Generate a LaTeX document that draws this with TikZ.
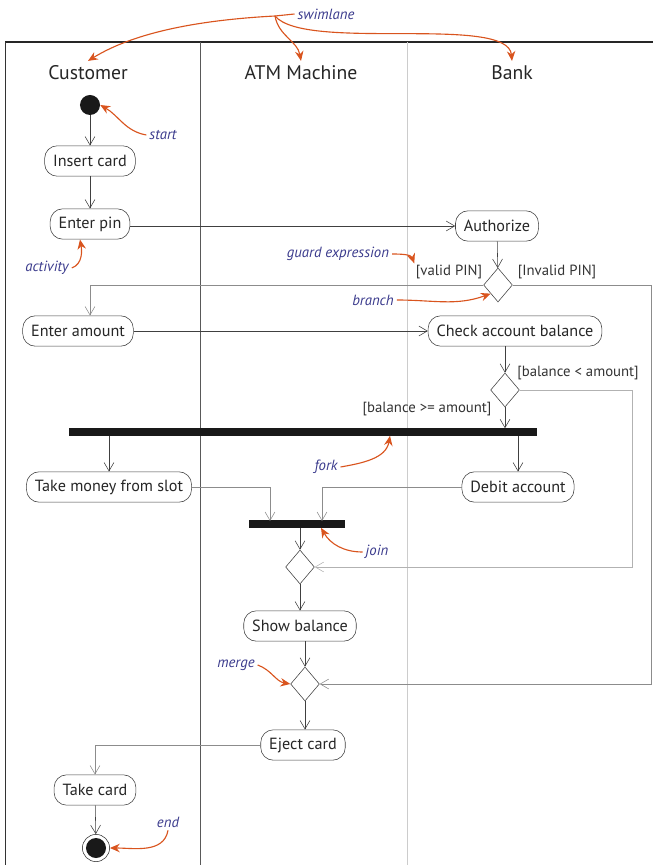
\documentclass[tikz,border=0pt]{standalone}
\usepackage{fontspec}
\setmainfont{PT Sans}
\usetikzlibrary{positioning,shapes.geometric,arrows.meta}

\definecolor{notecol}{HTML}{3A3A8C}
\definecolor{pointcol}{HTML}{D9541E}

\tikzset{
  lane/.style={font=\fontsize{14}{16}\selectfont, text=black!85},
  activity/.style={draw=black!75, rounded corners=9pt, minimum height=0.76cm, inner xsep=6pt,
    fill=white, font=\fontsize{11.5}{13}\selectfont, text=black!85},
  decision/.style={diamond, draw=black!75, fill=white, inner sep=0pt,
    minimum width=0.72cm, minimum height=0.85cm},
  bar/.style={fill=black!90, inner sep=0pt, minimum height=5pt},
  startnode/.style={circle, fill=black!90, minimum size=0.5cm, inner sep=0pt},
  endnode/.style={circle, draw=black!80, minimum size=0.68cm, inner sep=0pt,
    path picture={\fill[black!90] (path picture bounding box.center) circle (0.25cm);}},
  flow/.style={draw=black!75, -{Straight Barb[length=6pt,width=7pt]}},
  backflow/.style={draw=black!45, -{Straight Barb[length=6pt,width=7pt]}},
  guard/.style={font=\fontsize{10.5}{12}\selectfont, text=black!80, inner sep=1pt},
  note/.style={font=\fontsize{10.5}{12}\selectfont\itshape, text=notecol, inner sep=2pt},
  pointer/.style={draw=pointcol, thick, -{Stealth[length=7pt,width=6pt]}}
}

\begin{document}
\begin{tikzpicture}[x=0.025cm, y=-0.025cm]
  \useasboundingbox (0,0) rectangle (653,865);

  % swimlanes
  \draw[black!85, line width=1pt] (5,42) -- (653,42);
  \draw[black!80] (5,42) -- (5,865);
  \draw[black!65] (200,42) -- (200,865);
  \draw[black!20] (407,42) -- (407,865);

  \node[lane] (cust) at (88,73) {Customer};
  \node[lane] (atm) at (301,73) {ATM Machine};
  \node[lane] (bank) at (512,73) {Bank};

  % activities
  \node[startnode] (start) at (90,105) {};
  \node[activity] (insert) at (90,161) {Insert card};
  \node[activity] (pin) at (90,224) {Enter pin};
  \node[activity] (auth) at (497,226) {Authorize};
  \node[decision] (d1) at (498,285) {};
  \node[activity] (amount) at (78,331) {Enter amount};
  \node[activity] (check) at (515,331) {Check account balance};
  \node[decision] (d2) at (505,390) {};
  \node[bar, minimum width=11.675cm] (fork) at (303,432) {};
  \node[activity] (money) at (109,487) {Take money from slot};
  \node[activity] (debit) at (518,487) {Debit account};
  \node[bar, minimum width=2.375cm] (join) at (297,524) {};
  \node[decision] (d3) at (300,567) {};
  \node[activity] (show) at (300,626) {Show balance};
  \node[decision] (merge) at (305,684) {};
  \node[activity] (eject) at (303,745) {Eject card};
  \node[activity] (take) at (95,790) {Take card};
  \node[endnode] (end) at (96,848) {};

  % guards
  \node[guard] (valid) at (449,272) {[valid PIN]};
  \node[guard] (invalid) at (557,272) {[Invalid PIN]};
  \node[guard] (less) at (578,373) {[balance < amount]};
  \node[guard] (more) at (427,409) {[balance >= amount]};

  \coordinate (rim) at (651,0);
  \coordinate (rim2) at (632,0);
  \coordinate (jl) at (270,521);
  \coordinate (jr) at (322,521);

  % flows
  \draw[flow] (start) -- (insert);
  \draw[flow] (insert) -- (pin);
  \draw[flow] (pin.east |- auth) -- (auth);
  \draw[flow] (auth) -- (d1);
  \draw[backflow] (d1.west) -| (pin |- amount.north);
  \draw[backflow] (d1.east) -| (merge.east -| rim) -- (merge.east);
  \draw[flow] (amount) -- (check);
  \draw[flow] (d2 |- check.south) -- (d2.north);
  \draw[flow] (d2.south) -- (d2.south |- fork.north);
  \draw[backflow, draw=black!30] (d2.east) -| (d3.east -| rim2) -- (d3.east);
  \draw[flow] (money |- fork.south) -- (money.north);
  \draw[flow] (debit |- fork.south) -- (debit.north);
  \draw[backflow] (money.east) -| (jl);
  \draw[backflow] (debit.west) -| (jr);
  \draw[flow] (join.south -| d3) -- (d3.north);
  \draw[flow] (d3) -- (show);
  \draw[flow] (merge |- show.south) -- (merge.north);
  \draw[flow] (merge.south) -- (merge.south |- eject.north);
  \draw[backflow] (eject.west) -| (take.north);
  \draw[flow] (take) -- (end);

  % notes
  \node[note] (swnote) at (326,14) {swimlane};
  \node[note] (startnote) at (163,135) {start};
  \node[note] (actnote) at (47,268) {activity};
  \node[note] (guardnote) at (338,254) {guard expression};
  \node[note] (branchnote) at (373,300) {branch};
  \node[note] (forknote) at (326,467) {fork};
  \node[note] (joinnote) at (377,552) {join};
  \node[note] (mergenote) at (236,665) {merge};
  \node[note] (endnote) at (168,822) {end};

  \coordinate (swfrom) at (275,16);
  \draw[pointer] (swnote.west) -- (swfrom) .. controls (200,20) and (135,32) .. (cust.north);
  \draw[pointer] (swfrom) to[out=-80,in=100] (atm.north);
  \draw[pointer] (swfrom) to[out=-50,in=95, looseness=0.5] (bank.north);
  \draw[pointer] (startnote.west) to[out=170,in=-30] (start.east);
  \draw[pointer] (actnote.east) to[out=20,in=-80] ([xshift=-0.25cm]pin.south);
  \draw[pointer] (guardnote.east) to[out=0,in=110] (valid.north west);
  \draw[pointer] (branchnote.east) to[out=0,in=200] (d1.south west);
  \draw[pointer] (forknote.east) to[out=10,in=-100] ([xshift=2.175cm]fork.south);
  \draw[pointer] (joinnote.west) to[out=180,in=-60] ([xshift=0.6cm]join.south);
  \draw[pointer] (mergenote.east) to[out=-20,in=170] (merge.west);
  \draw[pointer] (endnote.south) to[out=-100,in=0] (end.east);
\end{tikzpicture}
\end{document}
